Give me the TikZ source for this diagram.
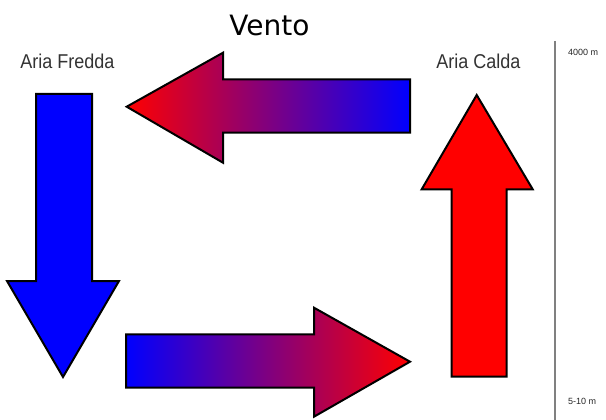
\documentclass[tikz,border=0pt]{standalone}
\usepackage{fontspec}
\setmainfont{Liberation Sans}
\newfontfamily\dejavu{DejaVu Sans}
\usepackage{graphicx}
\tikzset{
  arrowshape/.style={draw=black, line width=2pt, line join=miter},
  lbl/.style={anchor=base, inner sep=0pt, font=\fontsize{20}{22}\selectfont, text=black!80},
  scalelbl/.style={anchor=west, inner sep=0pt, font=\fontsize{9}{10}\selectfont, text=black!85},
}
\begin{document}
\begin{tikzpicture}[x=1pt,y=-1pt]
\useasboundingbox (0,0) rectangle (606,420);
% title
\node[anchor=base, inner sep=0pt, font=\dejavu\fontsize{28}{30}\selectfont] (title) at (269.5,35.5) {Vento};
% labels
\node[lbl] (fredda) at (67.5,68.7) {\scalebox{0.9}[1]{Aria Fredda}};
\node[lbl] (calda) at (478.5,68.7) {\scalebox{0.9}[1]{Aria Calda}};
% scale
\coordinate (stop) at (555,41);
\coordinate (sbot) at (555,420);
\draw[gray, line width=1.3pt] (stop) -- (sbot);
\node[scalelbl] (h4000) at (568,52) {4000 m};
\node[scalelbl] (h510) at (568,401) {5-10 m};
% blue down arrow
\path[arrowshape, fill=blue] (36,94) -- (92,94) -- (92,281) -- (119,281) -- (63,377) -- (7,281) -- (36,281) -- cycle;
% top arrow pointing left
\path[arrowshape, left color=red, right color=blue] (410,79.3) -- (223,79.3) -- (223,52.7) -- (126.7,106.7) -- (223,162.7) -- (223,132.7) -- (410,132.7) -- cycle;
% bottom arrow pointing right
\path[arrowshape, left color=blue, right color=red] (126,334.3) -- (314,334.3) -- (314,307.7) -- (410,361.7) -- (314,416.7) -- (314,387.7) -- (126,387.7) -- cycle;
% red up arrow
\path[arrowshape, fill=red] (451.7,376.7) -- (451.7,189.3) -- (421.7,189.3) -- (476.7,95) -- (532.7,189.3) -- (506.7,189.3) -- (506.7,376.7) -- cycle;
\end{tikzpicture}
\end{document}
